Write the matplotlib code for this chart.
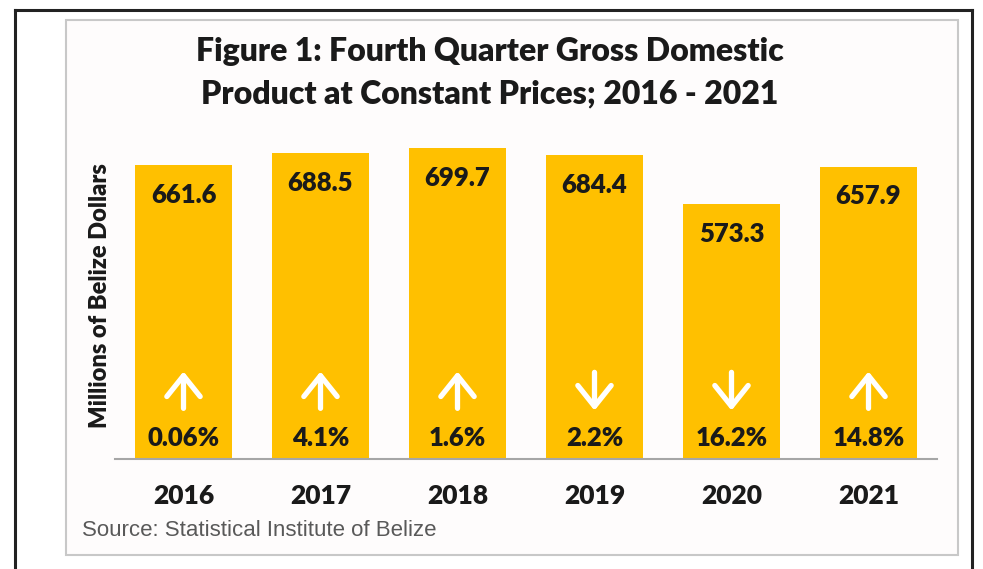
import matplotlib.pyplot as plt
from matplotlib.patches import Rectangle
from matplotlib.lines import Line2D

# data
years = ["2016", "2017", "2018", "2019", "2020", "2021"]
gdp = [661.6, 688.5, 699.7, 684.4, 573.3, 657.9]
growth = ["0.06%", "4.1%", "1.6%", "2.2%", "16.2%", "14.8%"]
direction = ["up", "up", "up", "down", "down", "up"]

BAR_COLOR = "#FFC000"
FONT = "Lato"
TXT = "#1a1a1a"

W, H = 983, 569
fig = plt.figure(figsize=(W / 100, H / 100), dpi=100)
fig.patch.set_facecolor("white")

# outer black frame (open at the bottom) and inner grey box
fig.add_artist(Line2D([15 / W, 15 / W], [0, 1 - 10 / H], color="#222222", lw=2.2))
fig.add_artist(Line2D([15 / W, 972 / W], [1 - 10 / H, 1 - 10 / H], color="#222222", lw=2.2))
fig.add_artist(Line2D([972 / W, 972 / W], [0, 1 - 10 / H], color="#222222", lw=2.2))
fig.add_artist(Rectangle((66 / W, 1 - 555 / H), (958 - 66) / W, (555 - 20) / H,
                         transform=fig.transFigure, facecolor="#FEFCFC",
                         edgecolor="#C8C8C8", lw=1.5, zorder=0))

ax = fig.add_axes([115 / W, 1 - 459 / H, 822 / W, 355.5 / H])
ax.set_facecolor("none")
x = list(range(len(years)))
ax.bar(x, gdp, width=0.71, color=BAR_COLOR, zorder=2)
ax.set_xlim(-0.5, 5.5)
ax.set_ylim(0, 800)

for i, v in enumerate(gdp):
    ax.text(i, v - 67, f"{v:.1f}", ha="center", va="center", fontsize=18.5,
            fontweight="heavy", family=FONT, color=TXT, zorder=3)
    ax.text(i, 48, growth[i], ha="center", va="center", fontsize=18.5,
            fontweight="heavy", family=FONT, color=TXT, zorder=3)
    if direction[i] == "up":
        start, end = 114, 197
    else:
        start, end = 195, 109
    ax.annotate("", xy=(i, end), xytext=(i, start),
                arrowprops=dict(arrowstyle="->,head_length=0.75,head_width=0.6",
                                mutation_scale=20, color="white", lw=3.8,
                                shrinkA=0, shrinkB=0), zorder=3)

for s in ["top", "right", "left"]:
    ax.spines[s].set_visible(False)
ax.spines["bottom"].set_color("#A6A6A6")
ax.spines["bottom"].set_linewidth(1.5)
ax.set_yticks([])
ax.set_xticks(x)
ax.set_xticklabels(years, fontsize=19, fontweight="heavy", family=FONT, color=TXT)
ax.tick_params(axis="x", length=0, pad=18)

fig.text(100 / W, 1 - 296 / H, "Millions of Belize Dollars", rotation=90,
         ha="center", va="center", fontsize=17, fontweight="heavy", family=FONT,
         color=TXT)
fig.text(490 / W, 1 - 51 / H, "Figure 1: Fourth Quarter Gross Domestic",
         ha="center", va="center", fontsize=23, fontweight="heavy", family=FONT,
         color=TXT)
fig.text(490 / W, 1 - 94 / H, "Product at Constant Prices; 2016 - 2021",
         ha="center", va="center", fontsize=23, fontweight="heavy", family=FONT,
         color=TXT)
fig.text(82 / W, 1 - 530 / H, "Source: Statistical Institute of Belize",
         ha="left", va="center", fontsize=16, family="Liberation Sans",
         color="#595959")

fig.savefig("out.png", dpi=100)
